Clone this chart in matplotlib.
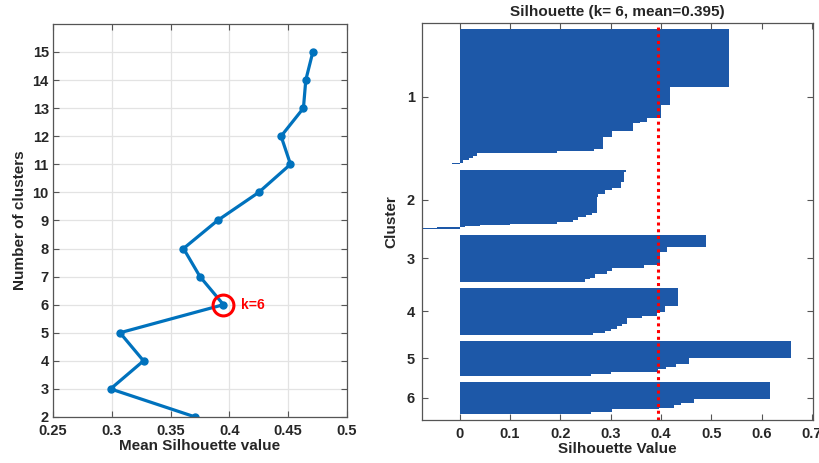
import matplotlib
matplotlib.use("Agg")
import matplotlib.pyplot as plt
import numpy as np

plt.rcParams['font.family'] = ['Liberation Sans', 'DejaVu Sans']
plt.rcParams['font.weight'] = 'bold'

# ---- Left panel data ----
k_values = [2, 3, 4, 5, 6, 7, 8, 9, 10, 11, 12, 13, 14, 15]
mean_sil = [0.371, 0.299, 0.327, 0.307, 0.395, 0.375, 0.361, 0.390, 0.425, 0.452, 0.444, 0.463, 0.465, 0.471]
best_k = 6
best_mean = 0.395

# ---- Right panel data: sorted silhouette values per cluster as (value, count) steps ----
cluster_labels = ['1', '2', '3', '4', '5', '6']
c1_vals = [0.535, 0.417, 0.401, 0.373, 0.359, 0.345, 0.302, 0.284, 0.266, 0.194, 0.035, 0.026, 0.018, 0.006, -0.016]
c1_cnts = [58, 18, 13, 4, 1, 8, 6, 12, 2, 2, 3, 2, 2, 3, 1]
c2_vals = [0.331, 0.326, 0.320, 0.303, 0.288, 0.275, 0.273, 0.263, 0.251, 0.236, 0.226, 0.194, 0.10, 0.04, 0.01, -0.045, -0.074]
c2_cnts = [2, 9, 6, 2, 4, 3, 16, 2, 2, 3, 2, 2, 1, 1, 1, 1, 1]
c3_vals = [0.490, 0.411, 0.399, 0.393, 0.367, 0.303, 0.293, 0.268, 0.258, 0.248]
c3_cnts = [12, 5, 11, 2, 3, 3, 3, 4, 1, 3]
c4_vals = [0.434, 0.407, 0.392, 0.362, 0.333, 0.323, 0.313, 0.300, 0.288, 0.265]
c4_cnts = [18, 6, 4, 2, 6, 2, 3, 2, 2, 2]
c5_vals = [0.659, 0.455, 0.430, 0.410, 0.395, 0.301, 0.261]
c5_cnts = [17, 6, 3, 2, 3, 2, 2]
c6_vals = [0.617, 0.465, 0.440, 0.425, 0.397, 0.303, 0.261]
c6_cnts = [17, 4, 2, 3, 1, 3, 2]
sil_mean = 0.395

clusters = [(c1_vals, c1_cnts), (c2_vals, c2_cnts), (c3_vals, c3_cnts),
            (c4_vals, c4_cnts), (c5_vals, c5_cnts), (c6_vals, c6_cnts)]

fig = plt.figure(figsize=(8.2, 4.63), dpi=100)
fig.patch.set_facecolor('white')

spine_col = '#555555'
text_col = '#262626'
blue = '#0072BD'

# ---- Left axes ----
ax1 = fig.add_axes([0.0646, 0.0994, 0.3585, 0.849])
ax1.plot(mean_sil, k_values, '-o', color=blue, linewidth=2.3, markersize=5,
         markerfacecolor=blue, markeredgecolor=blue)
ax1.plot([best_mean], [best_k], 'o', markersize=15, markerfacecolor='none',
         markeredgecolor='red', markeredgewidth=2.2)
ax1.text(best_mean + 0.0145, best_k, 'k=6', color='red', fontsize=10,
         fontweight='bold', va='center', ha='left')
ax1.set_xlim(0.25, 0.5)
ax1.set_ylim(2, 16)
ax1.set_xticks([0.25, 0.3, 0.35, 0.4, 0.45, 0.5])
ax1.set_xticklabels(['0.25', '0.3', '0.35', '0.4', '0.45', '0.5'])
ax1.set_yticks(range(2, 16))
ax1.grid(True, color='#e3e3e3', linewidth=0.9)
ax1.set_axisbelow(True)
ax1.set_xlabel('Mean Silhouette value', fontsize=11, fontweight='bold', color=text_col, labelpad=1)
ax1.set_ylabel('Number of clusters', fontsize=11, fontweight='bold', color=text_col, labelpad=4)
ax1.tick_params(direction='in', top=True, right=True, length=4, width=0.8,
                colors=spine_col, labelcolor=text_col, labelsize=10.5, pad=3)
ax1.tick_params(axis='x', pad=5)
for s in ax1.spines.values():
    s.set_color(spine_col)
    s.set_linewidth(0.9)

# ---- Right axes ----
ax2 = fig.add_axes([0.5146, 0.0929, 0.4768, 0.857])
gap = 6
row = gap
centers = []
for vals, cnts in clusters:
    start = row
    ys = []
    xs = []
    for v, c in zip(vals, cnts):
        for _ in range(c):
            ys.append(row + 0.5)
            xs.append(v)
            row += 1
    ax2.barh(ys, xs, height=1.0, left=0, color='#1d58a8', edgecolor='none', linewidth=0)
    centers.append((start + row) / 2.0)
    row += gap
total = row
ax2.axvline(sil_mean, color='red', linestyle=(0, (1, 1.2)), linewidth=2.2)
ax2.set_ylim(total, 0)
ax2.set_xlim(-0.075, 0.702)
ax2.set_xticks([0, 0.1, 0.2, 0.3, 0.4, 0.5, 0.6, 0.7])
ax2.set_xticklabels(['0', '0.1', '0.2', '0.3', '0.4', '0.5', '0.6', '0.7'])
ax2.set_yticks(centers)
ax2.set_yticklabels(cluster_labels)
ax2.set_xlabel('Silhouette Value', fontsize=11, fontweight='bold', color=text_col, labelpad=1)
ax2.set_ylabel('Cluster', fontsize=11, fontweight='bold', color=text_col, labelpad=6)
ax2.set_title('Silhouette (k= 6, mean=0.395)', fontsize=11, fontweight='bold', color=text_col, pad=5)
ax2.tick_params(direction='in', top=True, right=True, length=4, width=0.8,
                colors=spine_col, labelcolor=text_col, labelsize=10.5, pad=3)
ax2.tick_params(axis='y', pad=5)
ax2.tick_params(axis='x', pad=5)
for s in ax2.spines.values():
    s.set_color(spine_col)
    s.set_linewidth(0.9)

fig.savefig('out.png', dpi=100, facecolor='white')
